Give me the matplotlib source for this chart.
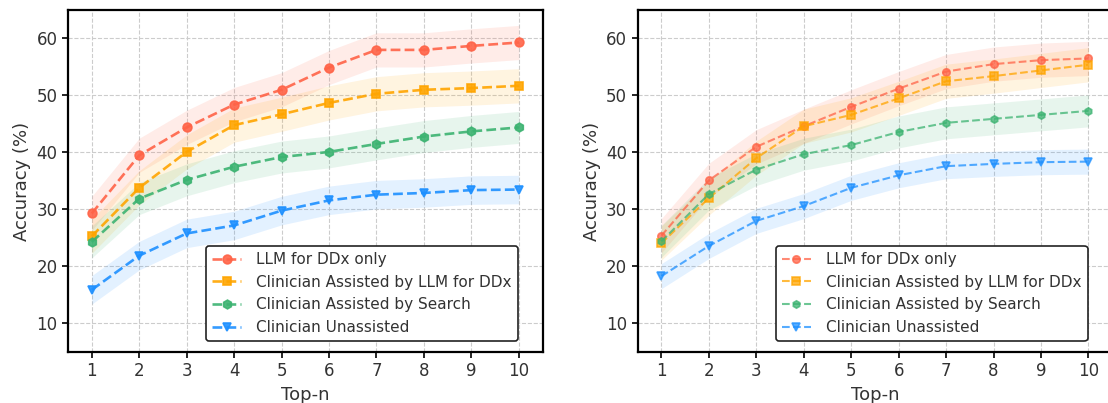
import matplotlib
matplotlib.use("Agg")
import matplotlib.pyplot as plt
import numpy as np

top_n = [1, 2, 3, 4, 5, 6, 7, 8, 9, 10]

labels = ["LLM for DDx only", "Clinician Assisted by LLM for DDx",
          "Clinician Assisted by Search", "Clinician Unassisted"]
colors = ["#FF6347", "#FFA500", "#3CB371", "#1E90FF"]
markers = ["o", "s", "h", "v"]

# left panel
left_llm = [29.3, 39.5, 44.4, 48.4, 51.0, 54.9, 58.0, 58.0, 58.7, 59.3]
left_llm_assist = [25.3, 33.8, 40.1, 44.8, 46.7, 48.7, 50.3, 51.0, 51.3, 51.7]
left_search = [24.3, 31.9, 35.2, 37.5, 39.2, 40.1, 41.5, 42.8, 43.7, 44.4]
left_unassisted = [15.9, 21.9, 25.8, 27.2, 29.8, 31.6, 32.6, 32.9, 33.4, 33.5]
left_ci = [3.0, 3.0, 2.8, 2.5]

# right panel
right_llm = [25.4, 35.1, 41.0, 44.6, 48.0, 51.2, 54.2, 55.5, 56.2, 56.5]
right_llm_assist = [24.1, 32.0, 39.0, 44.6, 46.6, 49.5, 52.5, 53.4, 54.4, 55.4]
right_search = [24.4, 32.7, 37.0, 39.7, 41.3, 43.6, 45.2, 45.9, 46.6, 47.3]
right_unassisted = [18.3, 23.6, 28.0, 30.6, 33.8, 36.0, 37.6, 38.0, 38.3, 38.4]
right_ci = [3.0, 3.0, 2.8, 2.2]

plt.rcParams['font.family'] = 'DejaVu Sans'
text_col = '#333333'

fig = plt.figure(figsize=(11.08, 4.03), dpi=100)
ax1 = fig.add_axes([0.0614, 0.1266, 0.4283, 0.8486])
ax2 = fig.add_axes([0.5755, 0.1266, 0.4283, 0.8486])

panels = [
    (ax1, [left_llm, left_llm_assist, left_search, left_unassisted], left_ci, 1.9, 6.3, 0.9),
    (ax2, [right_llm, right_llm_assist, right_search, right_unassisted], right_ci, 1.5, 5.3, 0.75),
]

x = np.array(top_n)
for ax, series, ci, lw, ms, alpha in panels:
    for vals, ci_w, lab, col, mk in zip(series, ci, labels, colors, markers):
        vals = np.array(vals)
        ax.fill_between(x, vals - ci_w, vals + ci_w, color=col, alpha=0.12, lw=0)
        ax.plot(x, vals, linestyle='--', color=col, lw=lw, marker=mk, markersize=ms,
                markerfacecolor=col, markeredgecolor=col, markeredgewidth=1.2,
                alpha=alpha, label=lab)
    ax.set_xlim(0.5, 10.5)
    ax.set_ylim(5, 65)
    ax.set_xticks(top_n)
    ax.set_yticks([10, 20, 30, 40, 50, 60])
    ax.grid(True, linestyle='--', color='#cccccc', lw=0.8)
    ax.set_axisbelow(True)
    for sp in ax.spines.values():
        sp.set_linewidth(1.6)
        sp.set_color('black')
    ax.tick_params(labelsize=12, labelcolor=text_col, width=1.2, length=4)
    ax.set_xlabel("Top-n", fontsize=13, color=text_col)
    ax.set_ylabel("Accuracy (%)", fontsize=13, color=text_col)
    leg = ax.legend(loc='lower right', bbox_to_anchor=(0.948, 0.032), borderaxespad=0,
                    fontsize=11, frameon=True, fancybox=True, framealpha=1.0,
                    handlelength=1.9, handletextpad=1.0)
    leg.get_frame().set_edgecolor('#222222')
    leg.get_frame().set_linewidth(1.2)
    for t in leg.get_texts():
        t.set_color(text_col)

fig.savefig("out.png", dpi=100)
